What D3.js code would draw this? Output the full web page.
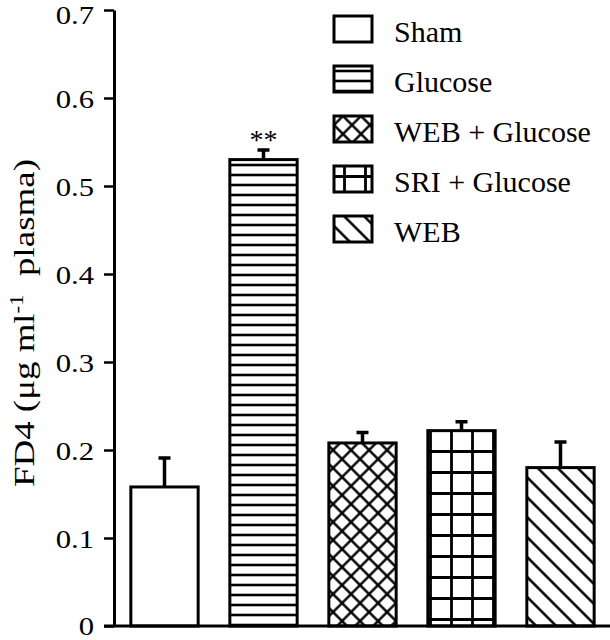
<!DOCTYPE html>
<html>
<head>
<meta charset="utf-8">
<script src="https://cdn.jsdelivr.net/npm/d3@7"></script>
<style>
  html, body { margin: 0; padding: 0; background: #fff; }
  svg { display: block; }
  svg text { font-family: "Liberation Serif", "Times New Roman", "DejaVu Serif", serif !important; fill: #000; font-weight: normal; }
</style>
</head>
<body>
<script>
// ---- data ----
const categories = ["Sham", "Glucose", "WEB + Glucose", "SRI + Glucose", "WEB"];
const means = [0.158, 0.530, 0.208, 0.222, 0.180];
const errors = [0.033, 0.011, 0.012, 0.010, 0.029];
const patterns = ["none", "horiz", "cross", "grid", "diag"];
const yTicks = [0, 0.1, 0.2, 0.3, 0.4, 0.5, 0.6, 0.7];
const yTickLabels = ["0", "0.1", "0.2", "0.3", "0.4", "0.5", "0.6", "0.7"];
const significance = ["", "**", "", "", ""];

const SERIF = '"Liberation Serif", "Times New Roman", "DejaVu Serif", serif';
const W = 610, H = 640;
const svg = d3.select("body").append("svg").attr("width", W).attr("height", H);

// ---- patterns ----
const defs = svg.append("defs");
function pat(id, size, transform) {
  const p = defs.append("pattern").attr("id", id)
    .attr("patternUnits", "userSpaceOnUse")
    .attr("width", size).attr("height", size);
  if (transform) p.attr("patternTransform", transform);
  p.append("rect").attr("width", size).attr("height", size).attr("fill", "#fff");
  return p;
}
pat("horiz", 10).append("path").attr("d", "M0,5H10").attr("stroke", "#000").attr("stroke-width", 2.6);
{
  const s = 12.73;
  pat("cross", s, "rotate(45)").append("path")
    .attr("d", `M${s/2},0V${s}M0,${s/2}H${s}`).attr("stroke", "#000").attr("stroke-width", 2.4);
}
pat("grid", 21).append("path").attr("d", "M10.5,0V21M0,10.5H21").attr("stroke", "#000").attr("stroke-width", 2.8);
pat("diag", 14.1, "rotate(45)").append("path").attr("d", "M0,7.05H14.1").attr("stroke", "#000").attr("stroke-width", 2.5);
const fillFor = p => p === "none" ? "#fff" : `url(#${p})`;

// ---- scales ----
const x = d3.scaleBand().domain(categories).range([115, 610]).paddingInner(0.32).paddingOuter(0.16);
const y = d3.scaleLinear().domain([0, 0.7]).range([626, 10]);

// ---- bars ----
const g = svg.append("g");
const data = categories.map((c, i) => ({ c, m: means[i], e: errors[i], p: patterns[i], s: significance[i] }));

g.selectAll("rect.bar").data(data).join("rect")
  .attr("class", "bar")
  .attr("x", d => x(d.c))
  .attr("y", d => y(d.m))
  .attr("width", x.bandwidth())
  .attr("height", d => y(0) - y(d.m))
  .attr("fill", d => fillFor(d.p))
  .attr("stroke", "#000").attr("stroke-width", 3);

// error bars (upward only)
const capW = 12;
g.selectAll("path.err").data(data).join("path")
  .attr("class", "err")
  .attr("d", d => {
    const cx = x(d.c) + x.bandwidth() / 2;
    return `M${cx},${y(d.m)}V${y(d.m + d.e)}M${cx - capW/2},${y(d.m + d.e)}H${cx + capW/2}`;
  })
  .attr("stroke", "#000").attr("stroke-width", 3.5).attr("fill", "none");

// significance
g.selectAll("text.sig").data(data.filter(d => d.s)).join("text")
  .attr("class", "sig")
  .attr("x", d => x(d.c) + x.bandwidth() / 2)
  .attr("y", d => y(d.m + d.e) - 1)
  .attr("text-anchor", "middle")
  .style("font-family", SERIF)
  .attr("font-size", 28)
  .text(d => d.s);

// ---- axes ----
const yAxis = d3.axisLeft(y).tickValues(yTicks)
  .tickFormat((d, i) => yTickLabels[i]).tickSize(10).tickSizeOuter(0).tickPadding(10);
const ya = svg.append("g").attr("transform", "translate(114,0)").call(yAxis);
ya.attr("font-family", null).attr("font-size", null);
ya.select(".domain").attr("stroke", "#000").attr("stroke-width", 3);
ya.selectAll(".tick line").attr("stroke", "#000").attr("stroke-width", 2.5);
ya.selectAll(".tick text")
  .style("font-family", SERIF)
  .attr("font-size", 26)
  .attr("dy", 9.5)
  .each(function (d) {
    const len = this.getComputedTextLength();
    const sel = d3.select(this);
    sel.attr("textLength", len * 1.18).attr("lengthAdjust", "spacingAndGlyphs");
    // keep the label box inside the picture
    const b = this.getBBox();
    const top = y(d) + b.y, bottom = y(d) + b.y + b.height;
    let dy = 9.5;
    if (top < 0) dy -= top;
    if (bottom > H) dy -= (bottom - H);
    sel.attr("dy", dy);
  });

// x axis baseline
svg.append("line").attr("x1", 104).attr("x2", 610).attr("y1", y(0)).attr("y2", y(0))
  .attr("stroke", "#000").attr("stroke-width", 3);

// y axis title
const yt = svg.append("text")
  .attr("transform", "translate(34,487) rotate(-90)")
  .style("font-family", SERIF)
  .attr("font-size", 29)
  .attr("textLength", 328).attr("lengthAdjust", "spacingAndGlyphs");
yt.append("tspan").text("FD4 (μg ml");
yt.append("tspan").attr("dy", -11).attr("font-size", 18).text("-1");
yt.append("tspan").attr("dy", 11).text("\u00a0\u00a0plasma)");

// ---- legend ----
const leg = svg.append("g");
const rows = leg.selectAll("g").data(data).join("g")
  .attr("transform", (d, i) => `translate(334,${16 + i * 50})`);
rows.append("rect").attr("width", 38).attr("height", 26)
  .attr("fill", d => fillFor(d.p)).attr("stroke", "#000").attr("stroke-width", 3);
rows.append("text").attr("x", 60).attr("y", 26)
  .style("font-family", SERIF)
  .attr("font-size", 30).text(d => d.c);
</script>
</body>
</html>
